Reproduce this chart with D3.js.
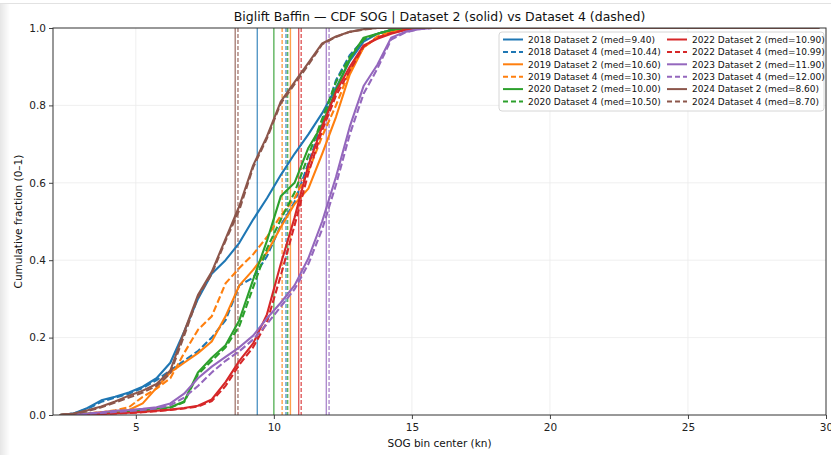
<!DOCTYPE html>
<html>
<head>
<meta charset="utf-8">
<script src="https://cdn.jsdelivr.net/npm/d3@7"></script>
<style>
  body { margin: 0; background: #fff; }
  svg { display: block; font-family: "DejaVu Sans", sans-serif; }
</style>
</head>
<body>
<svg width="831" height="455"></svg>
<script>
// SOG bin centers (kn)
const sogBins = [2.25, 2.75, 3.25, 3.75, 4.25, 4.75, 5.25, 5.75, 6.25, 6.75,
  7.25, 7.75, 8.25, 8.75, 9.25, 9.75, 10.25, 10.75, 11.25, 11.75,
  12.25, 12.75, 13.25, 13.75, 14.25, 14.75, 15.25, 15.75, 16.25, 29.75];

const years = ["2018", "2019", "2020", "2022", "2023", "2024"];

// cumulative fraction per year, Dataset 2 and Dataset 4
const cdf2018d2 = [0, 0.004, 0.018, 0.038, 0.047, 0.058, 0.073, 0.095, 0.135, 0.215,
  0.30, 0.365, 0.40, 0.445, 0.505, 0.56, 0.62, 0.675, 0.725, 0.78,
  0.845, 0.915, 0.965, 0.985, 0.995, 0.998, 1, 1, 1, 1];
const cdf2018d4 = [0, 0.004, 0.016, 0.034, 0.045, 0.055, 0.07, 0.09, 0.115, 0.14,
  0.165, 0.20, 0.245, 0.335, 0.355, 0.41, 0.49, 0.55, 0.65, 0.755,
  0.865, 0.93, 0.97, 0.985, 0.995, 0.998, 1, 1, 1, 1];
const cdf2019d2 = [0, 0.002, 0.004, 0.007, 0.01, 0.013, 0.03, 0.07, 0.11, 0.135,
  0.16, 0.19, 0.255, 0.335, 0.375, 0.42, 0.485, 0.545, 0.585, 0.675,
  0.77, 0.88, 0.95, 0.975, 0.99, 0.997, 1, 1, 1, 1];
const cdf2019d4 = [0, 0.002, 0.004, 0.007, 0.012, 0.02, 0.047, 0.068, 0.095, 0.16,
  0.22, 0.255, 0.34, 0.38, 0.415, 0.46, 0.515, 0.56, 0.63, 0.72,
  0.80, 0.89, 0.95, 0.978, 0.99, 0.997, 1, 1, 1, 1];
const cdf2020d2 = [0, 0.002, 0.003, 0.004, 0.006, 0.008, 0.012, 0.016, 0.02, 0.035,
  0.11, 0.148, 0.18, 0.245, 0.35, 0.45, 0.565, 0.60, 0.69, 0.75,
  0.84, 0.92, 0.975, 0.985, 0.995, 1, 1, 1, 1, 1];
const cdf2020d4 = [0, 0.002, 0.003, 0.004, 0.006, 0.008, 0.011, 0.015, 0.019, 0.033,
  0.105, 0.14, 0.175, 0.23, 0.33, 0.43, 0.505, 0.575, 0.67, 0.765,
  0.86, 0.925, 0.97, 0.985, 0.995, 1, 1, 1, 1, 1];
const cdf2022d2 = [0, 0.001, 0.002, 0.003, 0.004, 0.006, 0.008, 0.011, 0.014, 0.018,
  0.024, 0.04, 0.085, 0.14, 0.185, 0.26, 0.39, 0.51, 0.645, 0.745,
  0.835, 0.90, 0.955, 0.972, 0.985, 0.995, 1, 1, 1, 1];
const cdf2022d4 = [0, 0.001, 0.002, 0.003, 0.004, 0.005, 0.007, 0.01, 0.013, 0.017,
  0.022, 0.036, 0.075, 0.13, 0.175, 0.24, 0.36, 0.49, 0.625, 0.735,
  0.825, 0.89, 0.952, 0.975, 0.987, 0.995, 1, 1, 1, 1];
const cdf2023d2 = [0, 0.002, 0.004, 0.007, 0.011, 0.013, 0.016, 0.02, 0.03, 0.055,
  0.095, 0.125, 0.15, 0.175, 0.205, 0.25, 0.29, 0.335, 0.405, 0.5,
  0.615, 0.745, 0.85, 0.905, 0.975, 0.99, 0.997, 1, 1, 1];
const cdf2023d4 = [0, 0.001, 0.003, 0.005, 0.008, 0.01, 0.013, 0.017, 0.025, 0.045,
  0.075, 0.11, 0.14, 0.165, 0.195, 0.235, 0.28, 0.325, 0.39, 0.48,
  0.595, 0.725, 0.83, 0.895, 0.97, 0.988, 0.997, 1, 1, 1];
const cdf2024d2 = [0, 0.004, 0.012, 0.022, 0.035, 0.05, 0.063, 0.08, 0.115, 0.215,
  0.31, 0.37, 0.455, 0.54, 0.645, 0.72, 0.81, 0.86, 0.91, 0.96,
  0.978, 0.99, 0.997, 1, 1, 1, 1, 1, 1, 1];
const cdf2024d4 = [0, 0.003, 0.01, 0.02, 0.032, 0.045, 0.058, 0.075, 0.108, 0.205,
  0.305, 0.365, 0.45, 0.53, 0.64, 0.715, 0.805, 0.855, 0.905, 0.958,
  0.977, 0.99, 0.996, 1, 1, 1, 1, 1, 1, 1];

// medians shown in the legend and as vertical lines
const medD2 = [9.40, 10.60, 10.00, 10.90, 11.90, 8.60];
const medD4 = [10.44, 10.30, 10.50, 10.99, 12.00, 8.70];

const xTicks = [5, 10, 15, 20, 25, 30];
const yTicks = [0, 0.2, 0.4, 0.6, 0.8, 1.0];

const colors = ["#1f77b4", "#ff7f0e", "#2ca02c", "#d62728", "#9467bd", "#8c564b"];

const d2 = [cdf2018d2, cdf2019d2, cdf2020d2, cdf2022d2, cdf2023d2, cdf2024d2];
const d4 = [cdf2018d4, cdf2019d4, cdf2020d4, cdf2022d4, cdf2023d4, cdf2024d4];

const svg = d3.select("svg");

// soft frame of the screenshot
const grad = svg.append("defs").append("linearGradient").attr("id", "edge");
grad.append("stop").attr("offset", "0").attr("stop-color", "#e6e6e6");
grad.append("stop").attr("offset", "1").attr("stop-color", "#ffffff");
svg.append("rect").attr("x", 0).attr("y", 3).attr("width", 10).attr("height", 452)
  .attr("fill", "url(#edge)");
svg.append("line").attr("x1", 0).attr("x2", 831).attr("y1", 3.5).attr("y2", 3.5)
  .attr("stroke", "#e2e2e2");

const margin = {top: 28, right: 5, bottom: 40, left: 53};
const width = 831 - margin.left - margin.right;
const height = 455 - margin.top - margin.bottom;

const graph = svg.append("g")
  .attr("transform", `translate(${margin.left},${margin.top})`);

const x = d3.scaleLinear().domain([2, 30]).range([0, width]);
const y = d3.scaleLinear().domain([0, 1]).range([height, 0]);

// grid
graph.append("g")
  .selectAll("line.gx").data(xTicks.slice(0, -1)).enter().append("line")
  .attr("x1", d => x(d)).attr("x2", d => x(d))
  .attr("y1", 0).attr("y2", height)
  .attr("stroke", "#ebebeb").attr("stroke-width", 0.8);
graph.append("g")
  .selectAll("line.gy").data(yTicks.slice(1, -1)).enter().append("line")
  .attr("x1", 0).attr("x2", width)
  .attr("y1", d => y(d)).attr("y2", d => y(d))
  .attr("stroke", "#ebebeb").attr("stroke-width", 0.8);

graph.append("clipPath").attr("id", "plotclip")
  .append("rect").attr("width", width).attr("height", height);
const plot = graph.append("g").attr("clip-path", "url(#plotclip)");

// median lines
years.forEach((yr, i) => {
  plot.append("line")
    .attr("x1", x(medD2[i])).attr("x2", x(medD2[i]))
    .attr("y1", 0).attr("y2", height)
    .attr("stroke", colors[i]).attr("stroke-opacity", 0.75).attr("stroke-width", 1.4);
  plot.append("line")
    .attr("x1", x(medD4[i])).attr("x2", x(medD4[i]))
    .attr("y1", 0).attr("y2", height)
    .attr("stroke", colors[i]).attr("stroke-opacity", 0.75).attr("stroke-width", 1.4)
    .attr("stroke-dasharray", "4,2");
});

const line = d3.line()
  .x((d, j) => x(sogBins[j]))
  .y(d => y(d));

// CDF curves
years.forEach((yr, i) => {
  plot.append("path").datum(d2[i])
    .attr("d", line)
    .attr("fill", "none").attr("stroke", colors[i]).attr("stroke-width", 2.1)
    .attr("stroke-linejoin", "round");
  plot.append("path").datum(d4[i])
    .attr("d", line)
    .attr("fill", "none").attr("stroke", colors[i]).attr("stroke-width", 2.1)
    .attr("stroke-dasharray", "7,3");
});

// axes
const xAxis = d3.axisBottom(x).tickValues(xTicks).tickSize(4).tickPadding(5);
const yAxis = d3.axisLeft(y).tickValues(yTicks).tickSize(4).tickPadding(3)
  .tickFormat(d3.format(".1f"));

const xg = graph.append("g").attr("transform", `translate(0,${height})`).call(xAxis);
const yg = graph.append("g").call(yAxis);
[xg, yg].forEach(g => {
  g.select(".domain").remove();
  g.selectAll("text").attr("fill", "#222").style("font-size", "10.5px")
    .style("font-family", "DejaVu Sans");
  g.selectAll("line").attr("stroke", "#444");
});

// spines
graph.append("rect").attr("width", width).attr("height", height)
  .attr("fill", "none").attr("stroke", "#333").attr("stroke-width", 1);

// titles
svg.append("text")
  .attr("x", margin.left + width / 2).attr("y", 21)
  .attr("text-anchor", "middle").style("font-size", "12.5px").attr("fill", "#111")
  .text("Biglift Baffin \u2014 CDF SOG | Dataset 2 (solid) vs Dataset 4 (dashed)");
svg.append("text")
  .attr("x", margin.left + width / 2).attr("y", 447)
  .attr("text-anchor", "middle").style("font-size", "10.5px").attr("fill", "#111")
  .text("SOG bin center (kn)");
svg.append("text")
  .attr("transform", `translate(22,${margin.top + height / 2}) rotate(-90)`)
  .attr("text-anchor", "middle").style("font-size", "10.5px").attr("fill", "#111")
  .text("Cumulative fraction (0\u20131)");

// legend
const legend = svg.append("g").attr("transform", "translate(499,32)");
legend.append("rect")
  .attr("width", 325).attr("height", 79).attr("rx", 3)
  .attr("fill", "#fff").attr("fill-opacity", 0.85)
  .attr("stroke", "#d6d6d6");

const entries = [];
years.forEach((yr, i) => {
  entries.push({label: `${yr} Dataset 2 (med=${medD2[i].toFixed(2)})`, c: colors[i], dash: null});
  entries.push({label: `${yr} Dataset 4 (med=${medD4[i].toFixed(2)})`, c: colors[i], dash: "5,3"});
});

const items = legend.selectAll("g.item").data(entries).enter().append("g")
  .attr("transform", (d, k) =>
    `translate(${k < 6 ? 4 : 168},${7.5 + (k % 6) * 12.4})`);
items.append("line")
  .attr("x1", 0).attr("x2", 20)
  .attr("stroke", d => d.c).attr("stroke-width", 2)
  .attr("stroke-dasharray", d => d.dash);
const labels = items.append("text")
  .attr("x", 25).attr("y", 3.3)
  .style("font-size", "9px").attr("fill", "#111")
  .text(d => d.label);

// widen the legend text to the spacing seen in the original
const w0 = labels.node().getComputedTextLength();
const spacing = Math.max(0, (120 - w0) / 24);
labels.style("letter-spacing", spacing.toFixed(2) + "px");
</script>
</body>
</html>
